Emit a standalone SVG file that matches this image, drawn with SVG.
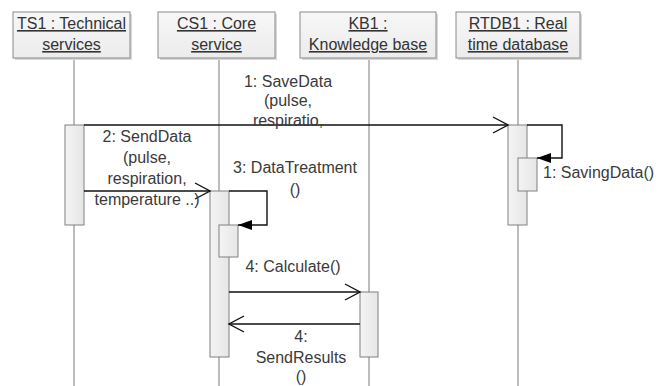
<svg xmlns="http://www.w3.org/2000/svg" width="667" height="386" viewBox="0 0 667 386">
  <defs>
    <linearGradient id="boxFill" x1="0" y1="0" x2="0" y2="1">
      <stop offset="0" stop-color="#f7f7f7"/>
      <stop offset="1" stop-color="#ececec"/>
    </linearGradient>
    <linearGradient id="actFill" x1="0" y1="0" x2="1" y2="0">
      <stop offset="0" stop-color="#f4f4f4"/>
      <stop offset="1" stop-color="#e6e6e6"/>
    </linearGradient>
    <marker id="open" markerWidth="18" markerHeight="20" refX="16" refY="10" orient="auto" markerUnits="userSpaceOnUse">
      <path d="M1,2 L16,10 L1,18" fill="none" stroke="#111" stroke-width="1.4"/>
    </marker>
    <marker id="filled" markerWidth="16" markerHeight="12" refX="14" refY="6" orient="auto" markerUnits="userSpaceOnUse">
      <path d="M0,1 L14,6 L0,11 Z" fill="#000"/>
    </marker>
  </defs>
  <style>
    .head rect.b { fill: url(#boxFill); stroke: #8a8a8a; stroke-width: 1; }
    .head rect.s { fill: #d8d8d8; }
    .head text { font-family: "Liberation Sans", Arial, sans-serif; font-size: 16px; fill: #333; text-anchor: middle; text-decoration: underline; }
    .life { stroke: #7a7a7a; stroke-width: 1; }
    .act { fill: url(#actFill); stroke: #808080; stroke-width: 1; }
    .msg { fill: none; stroke: #111; stroke-width: 1.4; }
    .lbl { font-family: "Liberation Sans", Arial, sans-serif; font-size: 16px; fill: #3a3a3a; text-anchor: middle; }
    .lbl.l { text-anchor: start; }
  </style>

  <rect width="667" height="386" fill="#ffffff"/>

  <!-- lifelines -->
  <g id="lifelines">
    <line class="life" x1="74" y1="58" x2="74" y2="386"/>
    <line class="life" x1="219" y1="58" x2="219" y2="386"/>
    <line class="life" x1="369" y1="58" x2="369" y2="386"/>
    <line class="life" x1="518" y1="58" x2="518" y2="386"/>
  </g>

  <!-- participants -->
  <g id="ts1" class="head">
    <rect class="s" x="15" y="14" width="117" height="46"/>
    <rect class="b" x="13" y="12" width="117" height="46"/>
    <text x="71.5" y="29">TS1 : Technical</text>
    <text x="71.5" y="50">services</text>
  </g>
  <g id="cs1" class="head">
    <rect class="s" x="160" y="14" width="117" height="46"/>
    <rect class="b" x="158" y="12" width="117" height="46"/>
    <text x="216.5" y="29">CS1 : Core</text>
    <text x="216.5" y="50">service</text>
  </g>
  <g id="kb1" class="head">
    <rect class="s" x="302" y="14" width="136" height="46"/>
    <rect class="b" x="300" y="12" width="136" height="46"/>
    <text x="368" y="29">KB1 :</text>
    <text x="368" y="50">Knowledge base</text>
  </g>
  <g id="rtdb1" class="head">
    <rect class="s" x="458" y="14" width="124" height="46"/>
    <rect class="b" x="456" y="12" width="124" height="46"/>
    <text x="518" y="29">RTDB1 : Real</text>
    <text x="518" y="50">time database</text>
  </g>

  <!-- activations -->
  <g id="activations">
    <rect class="act" x="65" y="125" width="19" height="100"/>
    <rect class="act" x="508" y="125" width="19" height="100"/>
    <rect class="act" x="518" y="158" width="19" height="33"/>
    <rect class="act" x="210" y="191" width="19" height="166"/>
    <rect class="act" x="219" y="225" width="19" height="32"/>
    <rect class="act" x="360" y="292" width="18" height="65"/>
  </g>

  <!-- messages -->
  <g id="connectors">
    <line class="msg" x1="84" y1="125" x2="508" y2="125" marker-end="url(#open)"/>
    <polyline class="msg" points="527,125 562,125 562,158 537,158" marker-end="url(#filled)"/>
    <line class="msg" x1="84" y1="191" x2="210" y2="191" marker-end="url(#open)"/>
    <polyline class="msg" points="229,191 267,191 267,225 238,225" marker-end="url(#filled)"/>
    <line class="msg" x1="229" y1="292" x2="360" y2="292" marker-end="url(#open)"/>
    <line class="msg" x1="360" y1="324" x2="229" y2="324" marker-end="url(#open)"/>
  </g>

  <!-- message labels -->
  <g id="labels">
    <text class="lbl" x="288" y="87">1: SaveData</text>
    <text class="lbl" x="288" y="106">(pulse,</text>
    <text class="lbl" x="288" y="126">respiratio,</text>

    <text class="lbl" x="147" y="142">2: SendData</text>
    <text class="lbl" x="147" y="163">(pulse,</text>
    <text class="lbl" x="147" y="184">respiration,</text>
    <text class="lbl" x="147" y="205">temperature ..)</text>

    <text class="lbl" x="295" y="173">3: DataTreatment</text>
    <text class="lbl" x="295" y="195">()</text>

    <text class="lbl l" x="543" y="178">1: SavingData()</text>

    <text class="lbl" x="293" y="272">4: Calculate()</text>

    <text class="lbl" x="301" y="342">4:</text>
    <text class="lbl" x="301" y="363">SendResults</text>
    <text class="lbl" x="301" y="382">()</text>
  </g>
</svg>
